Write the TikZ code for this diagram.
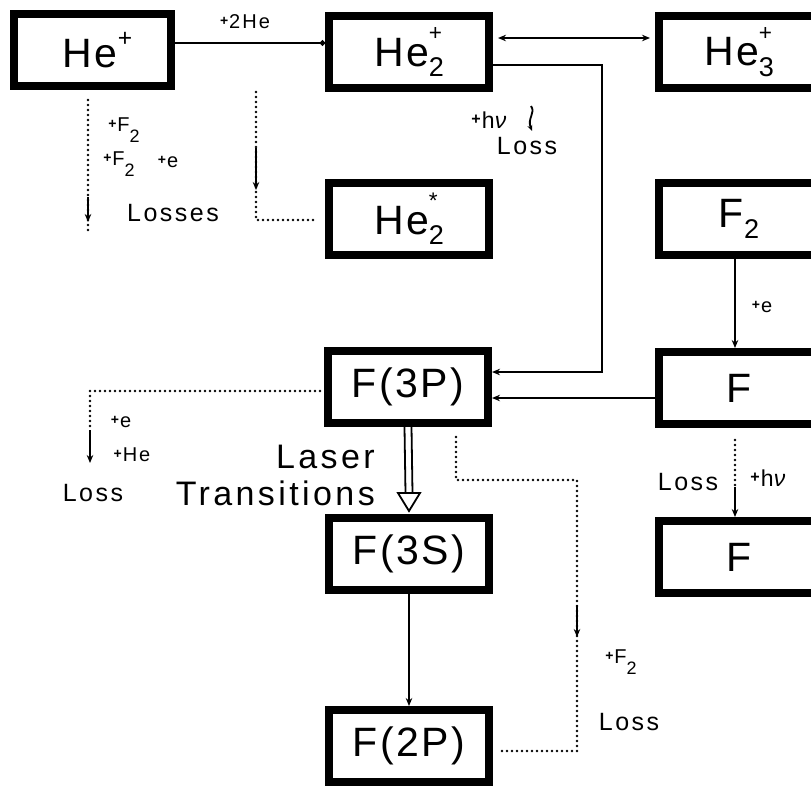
\documentclass[tikz,border=0pt]{standalone}
\usepackage{fontspec}
\usepackage{graphicx}
\setmainfont{Liberation Sans}[LetterSpace=6]
\newfontfamily\labfont{Liberation Sans}[LetterSpace=10]
\usetikzlibrary{arrows.meta,calc}

% species labels: subscript with a mark stacked above it
\newcommand\spc[2]{\rlap{\raisebox{0.62em}{\scalebox{0.55}{#2}}}\raisebox{-0.25em}{\scalebox{0.66}{#1}}}
\newcommand\sups[1]{\raisebox{0.5em}{\scalebox{0.6}{#1}}}
% small reaction labels
\newcommand\pl{\raisebox{0.16em}{\scalebox{0.7}{\bfseries +}}\hspace{0.05em}}
\newcommand\lowsub[1]{\raisebox{-0.55em}{\scalebox{0.9}{#1}}}

\tikzset{
  box/.style={draw, line width=8pt, minimum width=160pt, minimum height=72pt,
              inner sep=0pt, font=\fontsize{41}{41}\selectfont},
  conn/.style={line width=2.6pt},
  tip/.style={-{Stealth[length=8pt,width=6.5pt]}},
  dots/.style={line width=2.6pt, line cap=round, dash pattern=on 0pt off 5pt},
  small/.style={font=\labfont\fontsize{20}{20}\selectfont, inner sep=0pt},
  mid/.style={font=\labfont\fontsize{25}{25}\selectfont, inner sep=0pt},
  big/.style={font=\labfont\fontsize{34}{34}\selectfont, inner sep=0pt},
}

\begin{document}
\begin{tikzpicture}[x=1pt,y=-1pt]
\path[use as bounding box] (0,0) rectangle (811,788);
\clip (0,0) rectangle (811,788);

% level boxes
\node[box, minimum width=157pt] (hep) at (92.5,50) {\hspace{10pt}He\sups{+}};
\node[box] (hetwo)   at (409,52)  {He\spc{2}{+}};
\node[box] (hethree) at (739,52)  {He\spc{3}{+}};
\node[box] (hestar)  at (409,219) {He\spc{2}{*}};
\node[box] (ftwo)    at (739,219) {F\spc{2}{}};
\node[box] (fthreep) at (408,387) {F(3P)};
\node[box] (fright)  at (739,388) {F};
\node[box] (fthrees) at (409,554) {F(3S)};
\node[box] (fbot)    at (739,557) {F};
\node[box] (ftwop)   at (409,746) {F(2P)};

% He+ + 2He -> He2+
\draw[conn, -{Circle[open,length=5pt]}] (hep.east |- 0,43) -- (hetwo.west |- 0,43);
\node[small] (l2he) at (245,22) {\pl 2He};

% He2+ <-> He3+
\draw[conn, {Stealth[length=8pt,width=6.5pt]}-{Stealth[length=8pt,width=6.5pt]}]
  ($(hetwo.east |- 0,38)+(5,0)$) -- ($(hethree.west |- 0,38)+(-5,0)$);

% He2+ -> F(3P)
\draw[conn, tip] (hetwo.east |- 0,65) -- ++(109,0) |- (fthreep.east |- 0,372);
\node[small, font=\labfont\fontsize{23}{23}\selectfont] (lhnu) at (490,120) {\pl h\textit{ν}};
\draw[line width=1.8pt, -{Stealth[length=6pt,width=5pt]}] (531,106) .. controls (536,113) and (527,118) .. (532,131);
\node[mid] (lloss1) at (527,146) {Loss};

% F -> F(3P)
\draw[conn, tip] (fright.west |- 0,398) -- (fthreep.east |- 0,398);

% F2 + e -> F
\draw[conn, tip] (ftwo.south -| 735,0) -- (fright.north -| 735,0);
\node[small] (le1) at (762,307) {\pl e};

% F + hv -> F
\coordinate (fj) at (735,487);
\draw[dots] ($(fright.south -| 735,0)+(0,12)$) -- (fj);
\draw[conn, tip] (fj) -- (fbot.north -| 735,0);
\node[mid] (lloss2) at (688,482) {Loss};
\node[small, font=\labfont\fontsize{23}{23}\selectfont] (lhnu2) at (769,478) {\pl h\textit{ν}};

% laser transitions F(3P) => F(3S)
\draw[line width=1.8pt] ($(fthreep.south)+(-3.5,0)$) -- ($(fthrees.north)+(-3.5,-21)$);
\draw[line width=1.8pt] ($(fthreep.south)+(3.5,0)$) -- ($(fthrees.north)+(3.5,-21)$);
\draw[line width=1.8pt, line join=miter, fill=white]
  ($(fthrees.north)+(-11,-21)$) -- ($(fthrees.north)+(11,-21)$) -- ($(fthrees.north)+(0,-3)$) -- cycle;
\node[big, anchor=east] (llaser) at (375,457) {Laser};
\node[big, anchor=east] (ltrans) at (375,493) {Transitions};

% F(3S) -> F(2P)
\draw[conn, tip] (fthrees.south) -- (ftwop.north);

% F(3P) losses by e and He
\coordinate (lj1) at (90,430);
\coordinate (lend1) at (90,463);
\draw[dots] ($(fthreep.west |- 0,391)+(-4,0)$) -| (lj1);
\draw[conn, tip] (lj1) -- (lend1);
\node[small] (le2) at (121,422) {\pl e};
\node[small] (lhe) at (132,455) {\pl He};
\node[mid] (lloss3) at (93,493) {Loss};

% F(3P) -> F(2P) loss path with F2
\coordinate (ka) at (577,480);
\coordinate (kb) at (577,751);
\draw[dots] ($(fthreep.south -| 456,0)+(0,10)$) |- (ka) -- (kb) -- ($(ftwop.east |- 0,751)+(6,0)$);
\draw[conn, tip] (577,605) -- (577,637);
\node[small] (lf2c) at (621,662) {\pl F\lowsub{2}};
\node[mid] (lloss4) at (629,722) {Loss};

% branch to He2*
\coordinate (hbr) at (256,92);
\draw[dots] (hbr) |- ($(hestar.west |- 0,220)+(-8,0)$);
\draw[conn, tip] (256,148) -- (256,190);

% He+ losses
\coordinate (hl) at (88,230);
\draw[dots] ($(hep.south -| 88,0)+(0,10)$) -- (hl);
\draw[conn, tip] (88,197) -- (88,222);
\node[small] (lf2a) at (124,130) {\pl F\lowsub{2}};
\node[small] (lf2b) at (119,164) {\pl F\lowsub{2}};
\node[small] (le3) at (168,162) {\pl e};
\node[mid] (llosses) at (173,213) {Losses};
\end{tikzpicture}
\end{document}
